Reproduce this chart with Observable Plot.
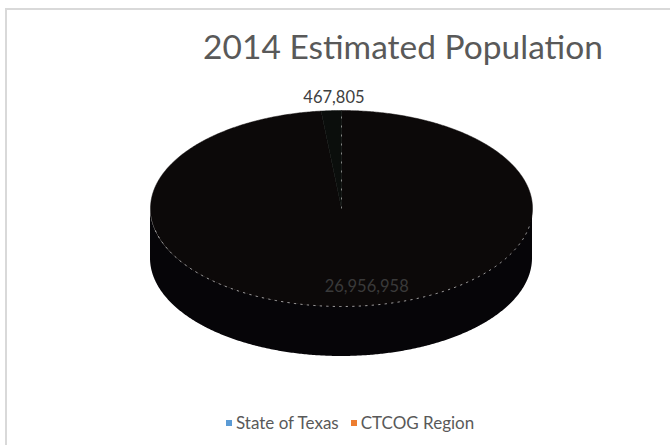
<!DOCTYPE html>
<html>
<head>
<meta charset="utf-8">
<script src="https://cdn.jsdelivr.net/npm/d3@7"></script>
<script src="https://cdn.jsdelivr.net/npm/@observablehq/plot@0.6"></script>
<style>
  html, body { margin: 0; padding: 0; background: #fff; }
  #wrap { position: relative; width: 670px; height: 445px; overflow: hidden; font-family: Lato, "Open Sans", sans-serif; }
  #frame { position: absolute; left: 5px; top: 8px; width: 700px; height: 500px; border-left: 2px solid #d9d9d9; border-top: 2px solid #d9d9d9; box-sizing: border-box; }
  #title { position: absolute; top: 30px; left: 403px; transform: translateX(-50%); white-space: nowrap; font-size: 33.5px; line-height: 1; color: #595959; }
  #chart { position: absolute; left: 0; top: 0; }
  #legend { position: absolute; top: 414px; left: 226px; white-space: nowrap; font-size: 17px; line-height: 1; color: #595959; }
  #legend span.sw { display: inline-block; width: 6px; height: 6px; margin-right: 4px; vertical-align: 3px; }
  #legend span.it { margin-right: 12px; }
</style>
</head>
<body>
<div id="wrap">
  <div id="frame"></div>
  <div id="title"></div>
  <div id="chart"></div>
  <div id="legend"></div>
</div>
<script>
// ---- data ----
const title = "2014 Estimated Population";
const categories = ["State of Texas", "CTCOG Region"];
const values = [26956958, 467805];
const legendColors = ["#5b9bd5", "#ed7d31"];
// as rendered in the reference picture (pie drawn dark)
const renderedTop = ["#0c0909", "#0b0e0c"];
const renderedSide = ["#060508", "#060508"];

// ---- geometry helpers ----
const depth = 0.51;          // side height in unit-radius terms
const total = d3.sum(values);
let acc = 0;
const slices = categories.map((c, i) => {
  const a0 = acc / total * 2 * Math.PI;
  acc += values[i];
  const a1 = acc / total * 2 * Math.PI;
  return {cat: c, value: values[i], a0, a1, i};
});
const pt = (a, r = 1) => ({x: r * Math.sin(a), y: r * Math.cos(a)});
function arc(a0, a1, step = Math.PI / 360) {
  const out = [];
  const n = Math.max(2, Math.ceil((a1 - a0) / step));
  for (let k = 0; k <= n; k++) out.push(a0 + (a1 - a0) * k / n);
  return out;
}

const marks = [];
// side walls (front half: angles between PI/2 and 3PI/2)
slices.forEach(s => {
  const lo = Math.max(s.a0, Math.PI / 2), hi = Math.min(s.a1, 3 * Math.PI / 2);
  if (hi > lo) {
    const pts = arc(lo, hi).map(a => ({x: Math.sin(a), y2: Math.cos(a), y1: Math.cos(a) - depth}));
    marks.push(Plot.areaY(pts, {x: "x", y1: "y1", y2: "y2", fill: renderedSide[s.i], curve: "linear"}));
  }
});
// top face slices
slices.forEach(s => {
  const pts = [{x: 0, y: 0}, ...arc(s.a0, s.a1).map(a => pt(a)), {x: 0, y: 0}];
  marks.push(Plot.line(pts, {x: "x", y: "y", fill: renderedTop[s.i], stroke: renderedTop[s.i], strokeWidth: 0.5, curve: "linear"}));
});
// slice boundary line (at 12 o'clock)
marks.push(Plot.link(slices.filter(s => s.a0 === 0), {
  x1: () => 0, y1: () => 0,
  x2: s => pt(s.a0).x, y2: s => pt(s.a0).y,
  stroke: "#fff", strokeOpacity: 0.6, strokeWidth: 0.8, strokeDasharray: "2,7"
}));
// dashed front rim highlight
const rim = arc(Math.PI * 0.56, Math.PI * 1.44).map(a => pt(a));
marks.push(Plot.line(rim, {x: "x", y: "y", stroke: "#fff", strokeOpacity: 0.75, strokeWidth: 0.8, strokeDasharray: "1.5,5", curve: "linear"}));
// data labels
const fmt = d3.format(",");
const small = slices.filter(s => s.value / total < 0.05);
const large = slices.filter(s => s.value / total >= 0.05);
marks.push(Plot.text(small, {
  x: s => pt((s.a0 + s.a1) / 2, 1.13).x, y: s => pt((s.a0 + s.a1) / 2, 1.13).y,
  text: s => fmt(s.value), dx: 4, fill: "#404040", fontSize: 16.5, fontFamily: "Lato, 'Open Sans', sans-serif"
}));
marks.push(Plot.text(large, {
  x: s => pt((s.a0 + s.a1) / 2, 0.8).x, y: s => pt((s.a0 + s.a1) / 2, 0.8).y,
  text: s => fmt(s.value), dx: 17, fill: "#3a3a3a", fontSize: 16.5, fontFamily: "Lato, 'Open Sans', sans-serif"
}));

const chart = Plot.plot({
  width: 670,
  height: 445,
  margin: 0,
  x: {domain: [-1, 1], range: [150, 532], axis: null},
  y: {domain: [-1, 1], range: [306, 110], axis: null},
  style: {background: "transparent", overflow: "visible"},
  marks
});
document.getElementById("chart").appendChild(chart);
document.getElementById("title").textContent = title;
const leg = document.getElementById("legend");
categories.forEach((c, i) => {
  const it = document.createElement("span");
  it.className = "it";
  const sw = document.createElement("span");
  sw.className = "sw";
  sw.style.background = legendColors[i];
  it.appendChild(sw);
  it.appendChild(document.createTextNode(c));
  leg.appendChild(it);
});
</script>
</body>
</html>
